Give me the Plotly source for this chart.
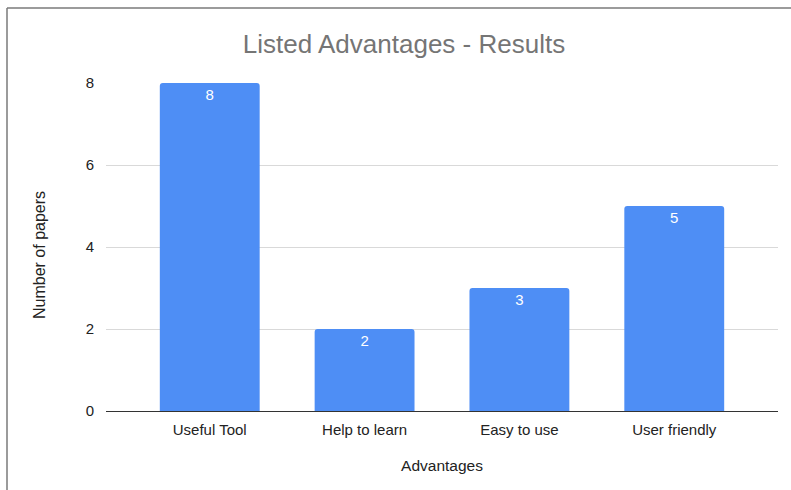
import plotly.graph_objects as go

# Data
categories = ["Useful Tool", "Help to learn", "Easy to use", "User friendly"]
papers = [8, 2, 3, 5]
y_ticks = [0, 2, 4, 6, 8]

W, H = 791, 490
ML, MR, MT, MB = 106, 13, 83, 79
PW = W - ML - MR
PH = H - MT - MB

fig = go.Figure(
    go.Bar(
        x=categories,
        y=papers,
        width=0.645,
        marker=dict(color="#4e8ef5", line=dict(width=0), cornerradius=3),
        text=[str(v) for v in papers],
        textposition="inside",
        insidetextanchor="end",
        textfont=dict(family="Liberation Sans, Arial", size=15, color="white"),
        cliponaxis=False,
    )
)

font = "Liberation Sans, Arial, sans-serif"

fig.update_layout(
    width=W,
    height=H,
    margin=dict(l=ML, r=MR, t=MT, b=MB),
    paper_bgcolor="white",
    plot_bgcolor="white",
    showlegend=False,
    font=dict(family=font, size=15, color="#222222"),
    title=dict(
        text="Listed Advantages - Results",
        x=404 / W,
        xanchor="center",
        y=1 - 44 / H,
        yanchor="middle",
        font=dict(family=font, size=26, color="#757575"),
    ),
    xaxis=dict(
        range=[-0.67, 3.67],
        showgrid=False,
        showline=False,
        ticks="outside",
        ticklen=5,
        tickcolor="rgba(0,0,0,0)",
        tickfont=dict(family=font, size=15, color="#222222"),
        title=dict(text="Advantages", standoff=23,
                   font=dict(family=font, size=15.5, color="#222222")),
    ),
    yaxis=dict(
        range=[0, 8],
        tickvals=y_ticks,
        showgrid=True,
        gridcolor="#d9d9d9",
        gridwidth=1,
        zeroline=True,
        zerolinecolor="#333333",
        zerolinewidth=1,
        showline=False,
        ticks="outside",
        ticklen=8,
        tickcolor="rgba(0,0,0,0)",
        tickfont=dict(family=font, size=15, color="#222222"),
    ),
)

# Y-axis title placed as a rotated annotation
fig.add_annotation(
    text="Number of papers",
    xref="paper", yref="paper",
    x=(39 - ML) / PW, y=(H - MB - 255) / PH,
    xanchor="center", yanchor="middle",
    textangle=-90, showarrow=False,
    font=dict(family=font, size=16, color="#222222"),
)

# Frame along the left and top edges of the image
bx = (7 - ML) / PW
ty = 1 + (MT - 8) / PH
by = -(MB + 2) / PH
rx = 1 + (MR + 2) / PW
fig.add_shape(type="line", xref="paper", yref="paper", x0=bx, x1=bx, y0=by, y1=ty,
              line=dict(color="#7a7a7a", width=1.5))
fig.add_shape(type="line", xref="paper", yref="paper", x0=bx, x1=rx, y0=ty, y1=ty,
              line=dict(color="#7a7a7a", width=1.5))

fig.write_html("out.html")
